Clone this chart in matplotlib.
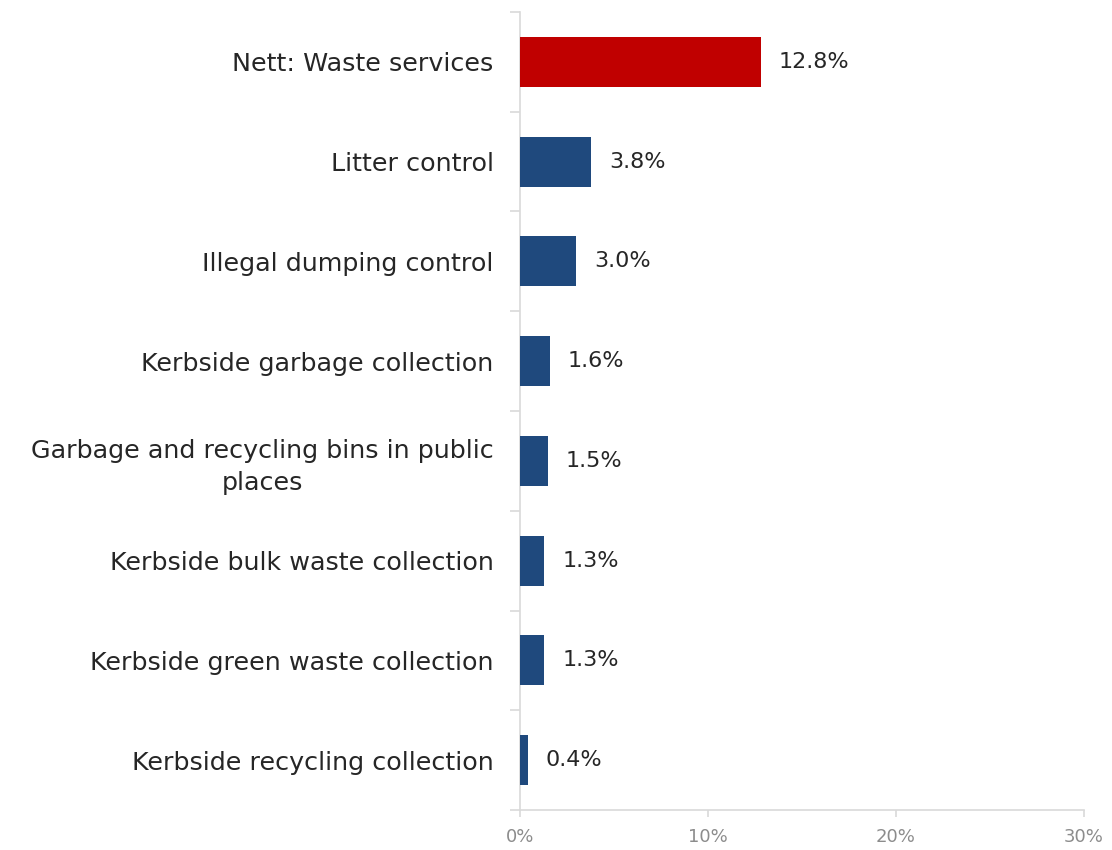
import numpy as np
import matplotlib
matplotlib.use("Agg")
import matplotlib.pyplot as plt
from matplotlib.ticker import FixedLocator, PercentFormatter

plt.rcParams.update({
    "font.family": ["DejaVu Sans"],
    "font.size": 14,
})

categories = [
    "Nett: Waste services",
    "Litter control",
    "Illegal dumping control",
    "Kerbside garbage collection",
    "Garbage and recycling bins in public\nplaces",
    "Kerbside bulk waste collection",
    "Kerbside green waste collection",
    "Kerbside recycling collection",
]
values = [12.8, 3.8, 3.0, 1.6, 1.5, 1.3, 1.3, 0.4]
bar_colors = ["#C00000"] + ["#1F497D"] * 7

AXIS_GREY = "#D9D9D9"

fig = plt.figure(figsize=(11.12, 8.5), dpi=100)
ax = fig.add_axes([520 / 1112, 1 - 810 / 850, (1084 - 520) / 1112, 798 / 850])

y = np.arange(len(categories))
ax.barh(y, values, height=0.5, color=bar_colors, zorder=3)

for yi, v in zip(y, values):
    ax.text(v + 0.95, yi, f"{v:.1f}%", va="center", ha="left",
            fontsize=16, color="#262626")

ax.set_xlim(0, 30)
ax.set_ylim(len(categories) - 0.5, -0.5)

ax.set_xticks([0, 10, 20, 30])
ax.xaxis.set_major_formatter(PercentFormatter(decimals=0))
ax.tick_params(axis="x", colors=AXIS_GREY, labelcolor="#8C8C8C",
               labelsize=13, length=5, width=1.2, pad=8)

# category labels sit between the boundary ticks
ax.set_yticks(y)
ax.set_yticklabels(categories, fontsize=18.3, color="#262626",
                   multialignment="center", linespacing=1.4)
ax.tick_params(axis="y", length=0, pad=19)
ax.yaxis.set_minor_locator(FixedLocator(np.arange(-0.5, len(categories), 1.0)))
ax.tick_params(axis="y", which="minor", length=7, width=1.2, color=AXIS_GREY)

for side in ("top", "right"):
    ax.spines[side].set_visible(False)
for side in ("left", "bottom"):
    ax.spines[side].set_color(AXIS_GREY)
    ax.spines[side].set_linewidth(1.2)

fig.savefig("out.png", dpi=100)
